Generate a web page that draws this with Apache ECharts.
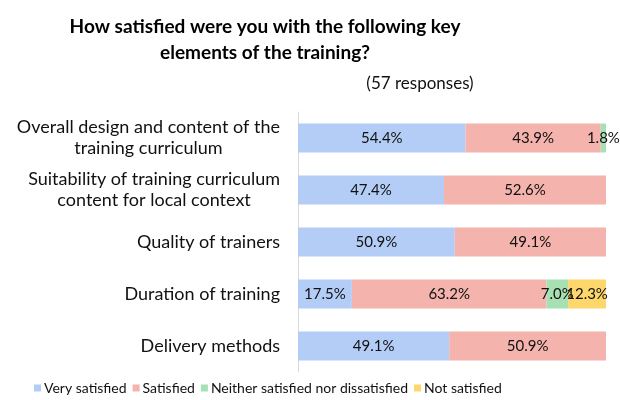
<!DOCTYPE html>
<html lang="en">
<head>
    <meta charset="UTF-8">
    <title>Training satisfaction</title>
    <script src="https://cdn.jsdelivr.net/npm/echarts@6/dist/echarts.min.js"></script>
</head>
<style>
    html, body { margin: 0; padding: 0; background: #fff; }
    #chart { width: 620px; height: 400px; }
</style>
<body>
    <div id="chart"></div>
</body>
<script>
    // categories (top to bottom)
    var categories = [
        'Overall design and content of the\ntraining curriculum',
        'Suitability of training curriculum\ncontent for local context',
        'Quality of trainers',
        'Duration of training',
        'Delivery methods'
    ];
    var verySatisfied = [54.4, 47.4, 50.9, 17.5, 49.1];
    var satisfied = [43.9, 52.6, 49.1, 63.2, 50.9];
    var neither = [1.8, null, null, 7.0, null];
    var notSatisfied = [null, null, null, 12.3, null];
    var seriesNames = ['Very satisfied', 'Satisfied', 'Neither satisfied nor dissatisfied', 'Not satisfied'];
    var colors = ['#b4cdf6', '#f4b3ad', '#a7e0b3', '#fdd66c'];

    var font = 'Lato, "Open Sans", sans-serif';
    var chart = echarts.init(document.getElementById('chart'));

    function makeSeries(name, data, color) {
        return {
            name: name,
            type: 'bar',
            stack: 'total',
            barWidth: 29,
            data: data,
            itemStyle: { color: color },
            label: {
                show: true,
                position: 'inside',
                color: '#111',
                fontFamily: font,
                fontSize: 15,
                formatter: function (p) {
                    return p.value == null ? '' : p.value.toFixed(1) + '%';
                }
            }
        };
    }

    var option = {
        animation: false,
        title: [{
            text: 'How satisfied were you with the following key\nelements of the training?',
            left: 260,
            top: 9,
            textAlign: 'center',
            textStyle: {
                fontFamily: font,
                fontSize: 19,
                fontWeight: 'bold',
                color: '#000',
                lineHeight: 26
            }
        }, {
            text: '(57 responses)',
            left: 415,
            top: 70,
            textAlign: 'center',
            textStyle: {
                fontFamily: font,
                fontSize: 17,
                fontWeight: 'normal',
                color: '#111'
            }
        }],
        legend: {
            bottom: 0,
            left: 29,
            itemWidth: 7,
            itemHeight: 7,
            itemGap: 6,
            icon: 'rect',
            data: seriesNames,
            textStyle: { fontFamily: font, fontSize: 14, color: '#111', padding: [0, 0, 0, -2] }
        },
        grid: { left: 298, right: 14, top: 112, bottom: 28, containLabel: false },
        xAxis: {
            type: 'value',
            min: 0,
            max: 100,
            show: false
        },
        yAxis: {
            type: 'category',
            inverse: true,
            data: categories,
            axisLine: { show: true, lineStyle: { color: '#d9d9d9', width: 1 } },
            axisTick: { show: false },
            axisLabel: {
                margin: 18,
                color: '#111',
                fontFamily: font,
                fontSize: 18,
                lineHeight: 21,
                formatter: function (v) {
                    return v.split('\n').map(function (s) { return '{c|' + s + '}'; }).join('\n');
                },
                rich: {
                    c: { align: 'center', fontFamily: font, fontSize: 18, lineHeight: 21, color: '#111' }
                }
            }
        },
        series: [
            makeSeries(seriesNames[0], verySatisfied, colors[0]),
            makeSeries(seriesNames[1], satisfied, colors[1]),
            makeSeries(seriesNames[2], neither, colors[2]),
            makeSeries(seriesNames[3], notSatisfied, colors[3])
        ]
    };
    chart.setOption(option);
</script>
</html>
